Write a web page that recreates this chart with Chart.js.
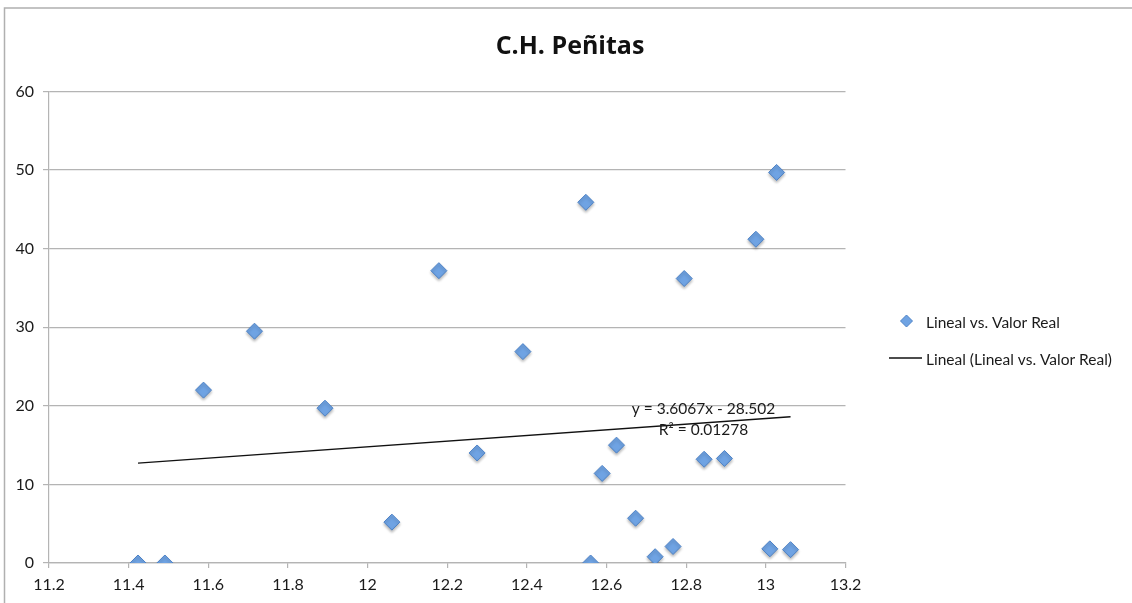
<!DOCTYPE html>
<html>
<head>
<meta charset="utf-8">
<title>C.H. Peñitas</title>
<script src="https://cdn.jsdelivr.net/npm/chart.js@4/dist/chart.umd.min.js"></script>
<style>
  html, body { margin: 0; padding: 0; background: #ffffff; }
  #wrap { position: relative; width: 1132px; height: 603px; }
</style>
</head>
<body>
<div id="wrap"><canvas id="chart" width="1132" height="603"></canvas></div>
<script>
// Lineal estimate (x) against the real value (y)
const linealX = [
  11.4235, 11.491, 11.588, 11.716, 11.893, 12.061, 12.179, 12.275,
  12.390, 12.548, 12.560, 12.589, 12.625, 12.673, 12.722, 12.767,
  12.795, 12.845, 12.896, 12.975, 13.010, 13.027, 13.062
];
const valorReal = [
  0, 0, 22.0, 29.5, 19.7, 5.2, 37.2, 14.0,
  26.9, 45.9, 0, 11.4, 15.0, 5.7, 0.8, 2.1,
  36.2, 13.2, 13.3, 41.2, 1.8, 49.7, 1.7
];

// Linear trendline coefficients as printed on the chart
const trendSlope = 3.6067;
const trendIntercept = -28.502;
const trendLabel = ['y = 3.6067x - 28.502', 'R² = 0.01278'];

const xTicks = [11.2, 11.4, 11.6, 11.8, 12, 12.2, 12.4, 12.6, 12.8, 13, 13.2];
const yTicks = [0, 10, 20, 30, 40, 50, 60];

const chartTitle = 'C.H. Peñitas';
const seriesName = 'Lineal vs. Valor Real';
const trendName = 'Lineal (Lineal vs. Valor Real)';

const points = linealX.map((x, i) => ({ x: x, y: valorReal[i] }));
const xMin = Math.min(...linealX);
const xMax = Math.max(...linealX);
const trendPoints = [xMin, xMax].map(x => ({ x: x, y: trendSlope * x + trendIntercept }));

const FONT = 'Lato, "Open Sans", "Liberation Sans", sans-serif';
const TITLE_FONT = '"Open Sans", Lato, sans-serif';
const GRID = '#b4b4b4';

// Outer frame, title, trendline equation and right-hand legend
const decorations = {
  id: 'decorations',
  beforeDraw(chart) {
    const ctx = chart.ctx;
    ctx.save();
    ctx.strokeStyle = '#b0b0b0';
    ctx.lineWidth = 1.5;
    ctx.beginPath();
    ctx.moveTo(4.5, chart.height + 2);
    ctx.lineTo(4.5, 8);
    ctx.lineTo(chart.width + 2, 8);
    ctx.stroke();

    ctx.fillStyle = '#111111';
    ctx.font = 'bold 25px ' + TITLE_FONT;
    ctx.textAlign = 'center';
    ctx.textBaseline = 'middle';
    ctx.fillText(chartTitle, 570, 47);
    ctx.restore();
  },
  beforeDatasetDraw(chart, args) {
    if (args.index === 0) {
      const ctx = chart.ctx;
      ctx.save();
      ctx.shadowColor = 'rgba(0,0,0,0.28)';
      ctx.shadowBlur = 3;
      ctx.shadowOffsetY = 2;
    }
  },
  afterDatasetDraw(chart, args) {
    if (args.index === 0) chart.ctx.restore();
  },
  afterDraw(chart) {
    const ctx = chart.ctx;
    const xs = chart.scales.x, ys = chart.scales.y;
    ctx.save();

    // trendline equation, placed near the right end of the line
    const end = trendPoints[1];
    const ex = xs.getPixelForValue(end.x) - 87;
    const ey = ys.getPixelForValue(end.y);
    ctx.fillStyle = '#1a1a1a';
    ctx.font = '15.5px ' + FONT;
    ctx.textAlign = 'center';
    ctx.textBaseline = 'middle';
    ctx.fillText(trendLabel[0], ex, ey - 8);
    ctx.fillText(trendLabel[1], ex, ey + 13);

    // legend
    const lx = 926;
    ctx.textAlign = 'left';
    ctx.font = '15.5px ' + FONT;
    const ds = chart.data.datasets;
    // marker entry
    ctx.fillStyle = ds[0].backgroundColor;
    ctx.strokeStyle = ds[0].borderColor;
    ctx.lineWidth = 1;
    ctx.beginPath();
    const mx = 906.5, my = 321, r = 6;
    ctx.moveTo(mx - r, my); ctx.lineTo(mx, my - r); ctx.lineTo(mx + r, my); ctx.lineTo(mx, my + r);
    ctx.closePath();
    ctx.fill(); ctx.stroke();
    ctx.fillStyle = '#1a1a1a';
    ctx.fillText(ds[0].label, lx, 323);
    // line entry
    ctx.strokeStyle = ds[1].borderColor;
    ctx.lineWidth = 1.3;
    ctx.beginPath();
    ctx.moveTo(889, 358); ctx.lineTo(922, 358);
    ctx.stroke();
    ctx.fillText(ds[1].label, lx, 360);
    ctx.restore();
  }
};

new Chart(document.getElementById('chart'), {
  type: 'scatter',
  data: {
    datasets: [
      {
        label: seriesName,
        data: points,
        pointStyle: 'rectRot',
        pointRadius: 8,
        pointHoverRadius: 8,
        backgroundColor: '#6fa3e3',
        borderColor: '#4d82c6',
        borderWidth: 1
      },
      {
        label: trendName,
        type: 'line',
        data: trendPoints,
        showLine: true,
        borderColor: '#111111',
        borderWidth: 1.3,
        pointRadius: 0,
        fill: false
      }
    ]
  },
  options: {
    responsive: false,
    animation: false,
    events: [],
    layout: { padding: { left: 8, right: 286.5, top: 91.5, bottom: 0 } },
    plugins: {
      legend: { display: false },
      tooltip: { enabled: false },
      title: { display: false }
    },
    scales: {
      x: {
        type: 'linear',
        min: xTicks[0],
        max: xTicks[xTicks.length - 1],
        afterBuildTicks(scale) { scale.ticks = xTicks.map(v => ({ value: v })); },
        afterFit(scale) { scale.height = 40; },
        ticks: {
          color: '#1a1a1a',
          font: { family: FONT, size: 16 },
          padding: 7,
          maxRotation: 0,
          autoSkip: false,
          callback: v => String(Number(v.toFixed(1)))
        },
        grid: { drawOnChartArea: false, drawTicks: true, tickLength: 5, color: GRID, lineWidth: 1.2 },
        border: { display: true, color: GRID, width: 1.2 }
      },
      y: {
        type: 'linear',
        min: yTicks[0],
        max: yTicks[yTicks.length - 1],
        afterBuildTicks(scale) { scale.ticks = yTicks.map(v => ({ value: v })); },
        afterFit(scale) { scale.width = 41; },
        ticks: {
          color: '#1a1a1a',
          font: { family: FONT, size: 16 },
          padding: 9,
          autoSkip: false
        },
        grid: { drawOnChartArea: true, drawTicks: true, tickLength: 6, color: GRID, lineWidth: 1.2 },
        border: { display: true, color: GRID, width: 1.2 }
      }
    }
  },
  plugins: [decorations]
});
</script>
</body>
</html>
